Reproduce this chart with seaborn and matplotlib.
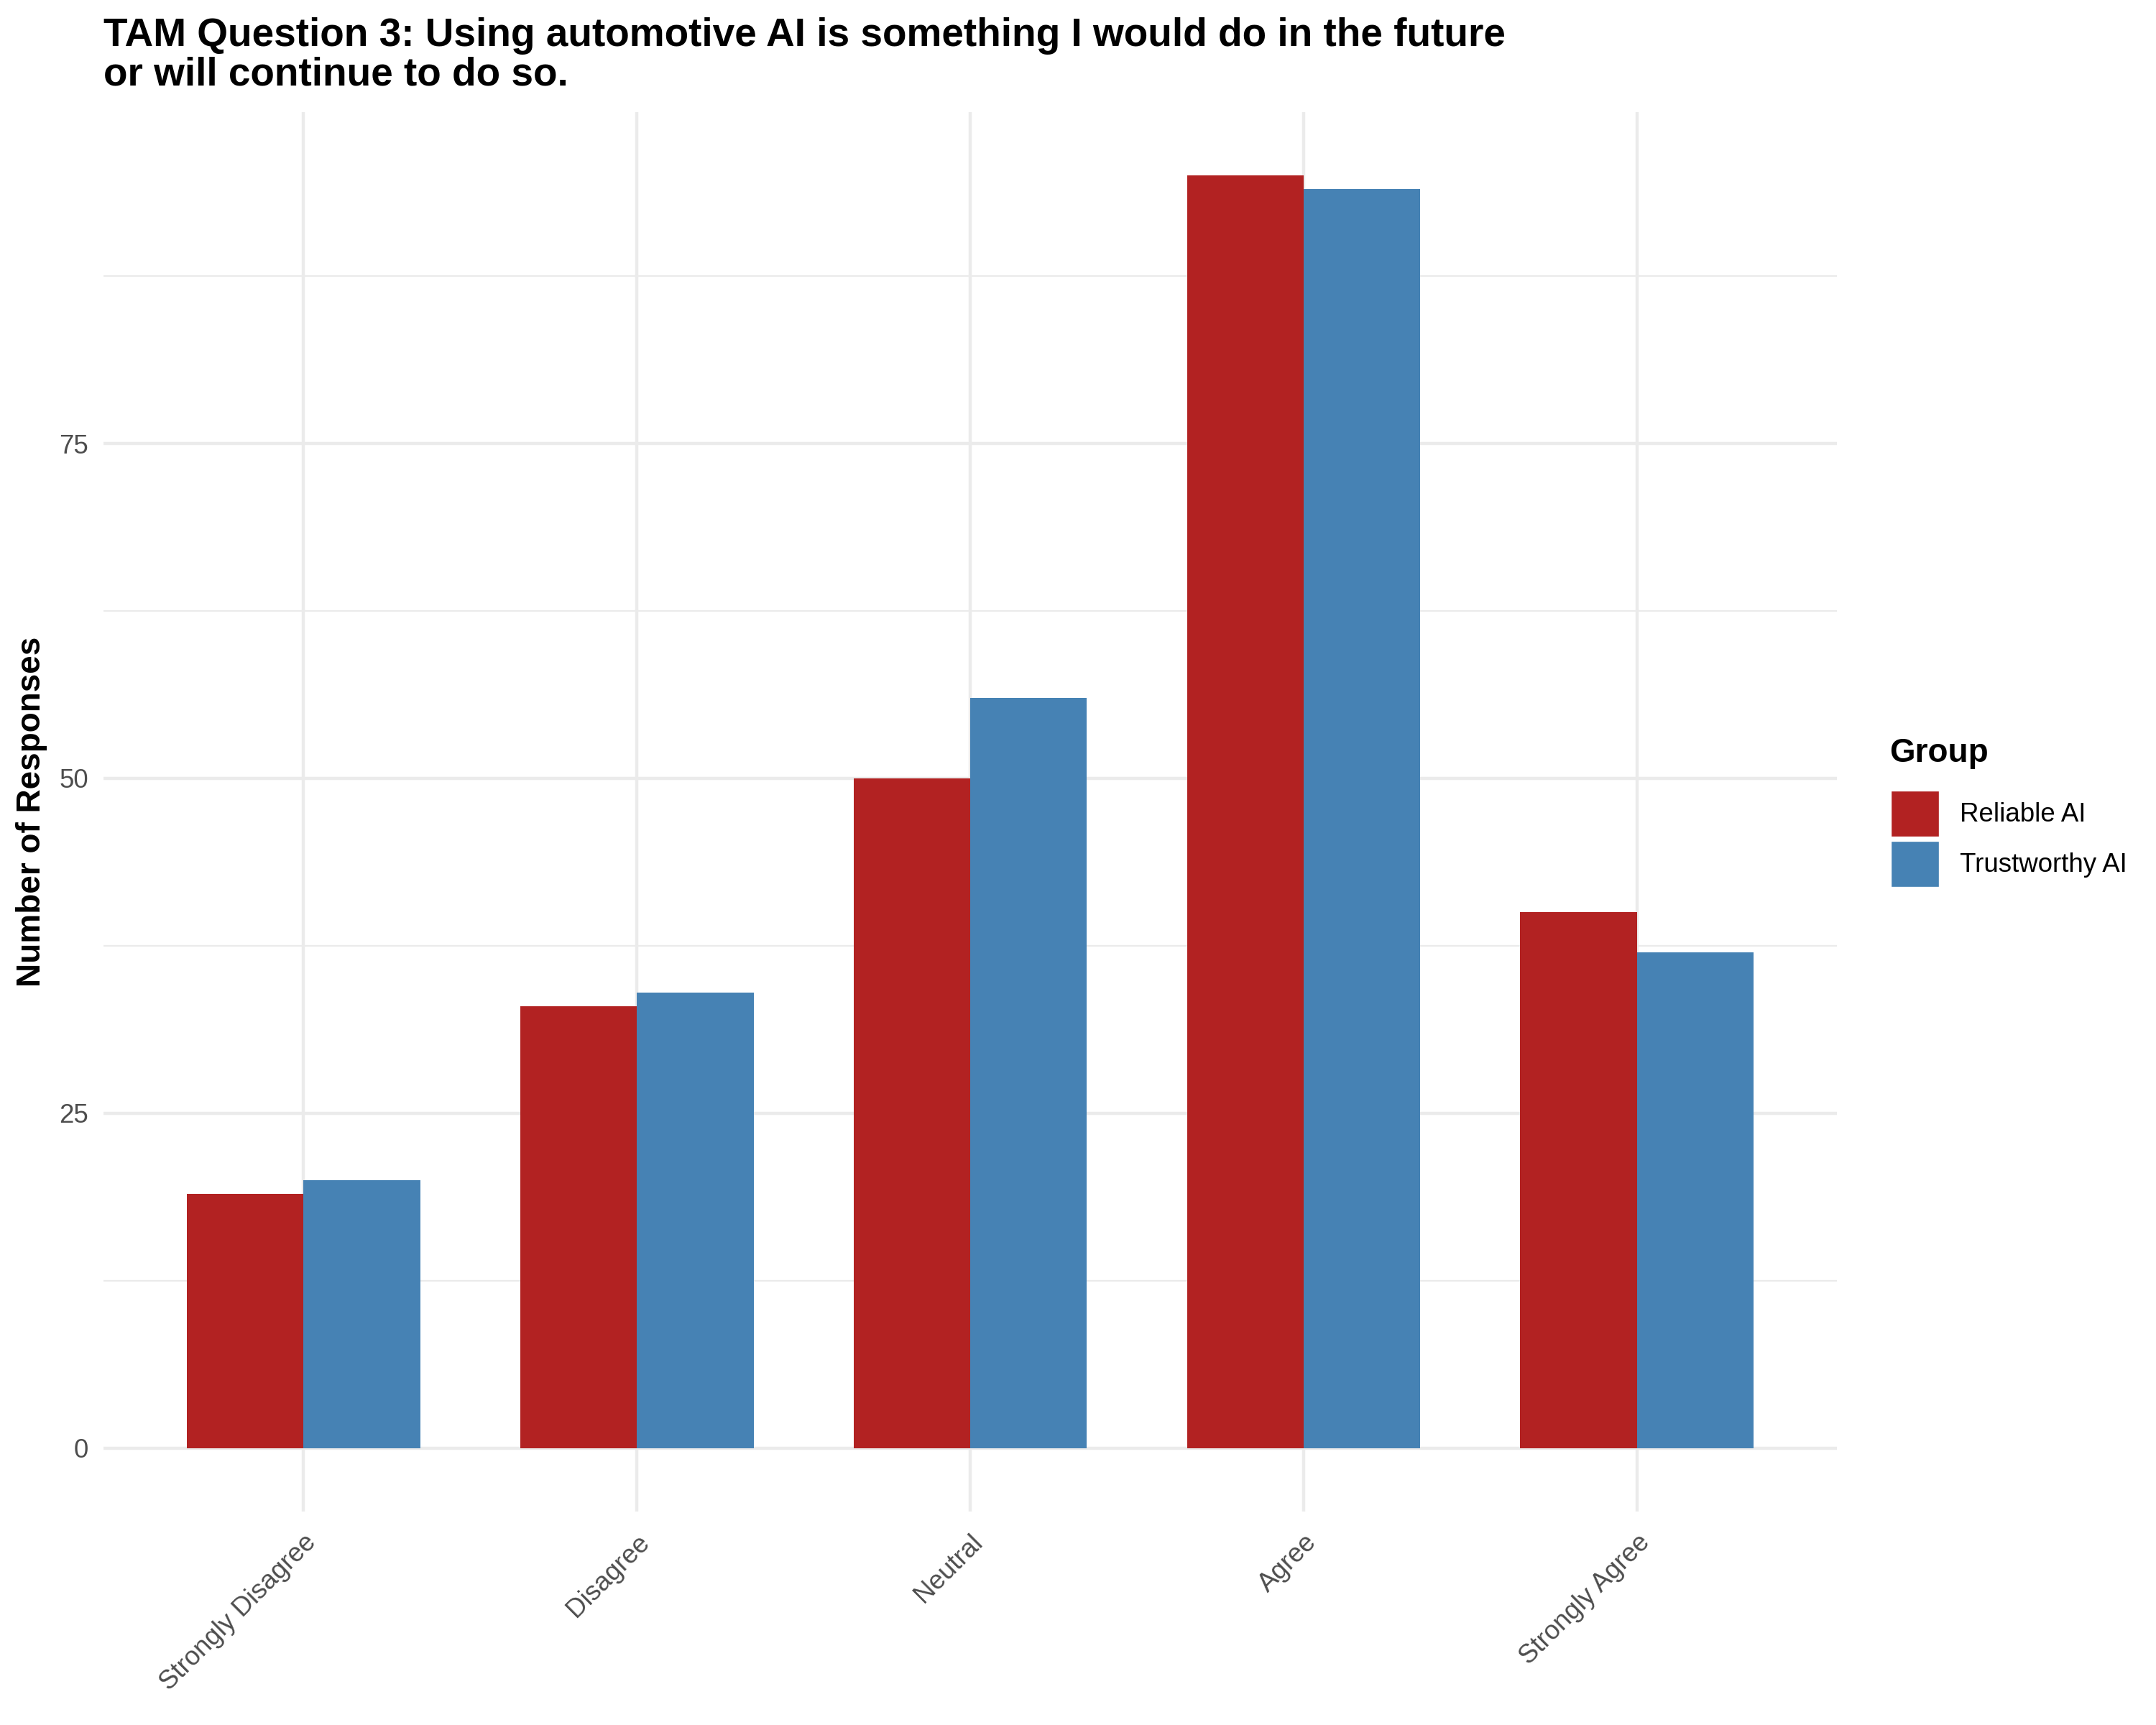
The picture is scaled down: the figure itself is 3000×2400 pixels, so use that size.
import matplotlib
matplotlib.use("Agg")
import matplotlib.pyplot as plt
from matplotlib.patches import Patch
import seaborn as sns
import pandas as pd

categories = ["Strongly Disagree", "Disagree", "Neutral", "Agree", "Strongly Agree"]
groups = ["Reliable AI", "Trustworthy AI"]
reliable = [19, 33, 50, 95, 40]
trustworthy = [20, 34, 56, 94, 37]
colors = {"Reliable AI": "#B22222", "Trustworthy AI": "#4682B4"}
title = "TAM Question 3: Using automotive AI is something I would do in the future\nor will continue to do so."
ylabel = "Number of Responses"
yticks = [0, 25, 50, 75]

df = pd.DataFrame({
    "Response": categories * 2,
    "Group": [groups[0]] * len(categories) + [groups[1]] * len(categories),
    "Count": reliable + trustworthy,
})

sns.set_theme(style="white")
plt.rcParams["font.family"] = ["Liberation Sans", "DejaVu Sans"]
plt.rcParams["text.color"] = "black"

fig = plt.figure(figsize=(10, 8), dpi=300)
ax = fig.add_axes([0.048, 0.1236, 0.804, 0.8115])

sns.barplot(data=df, x="Response", y="Count", hue="Group", order=categories,
            hue_order=groups, palette=colors, width=0.7, saturation=1,
            edgecolor="none", linewidth=0, ax=ax, legend=False)

ax.set_xlim(-0.6, len(categories) - 0.4)
ymax = max(reliable + trustworthy)
ax.set_ylim(-0.05 * ymax, 1.05 * ymax)
ax.set_yticks(yticks)
ax.set_yticks([12.5, 37.5, 62.5, 87.5], minor=True)
ax.set_axisbelow(True)
ax.grid(True, which="major", axis="both", color="#EBEBEB", linewidth=1.07)
ax.grid(True, which="minor", axis="y", color="#EBEBEB", linewidth=0.55)
for s in ax.spines.values():
    s.set_visible(False)

ax.tick_params(axis="both", which="both", length=0, labelsize=8.8, labelcolor="#4D4D4D")
ax.tick_params(axis="y", pad=5)
ax.tick_params(axis="x", pad=6)
for lab in ax.get_xticklabels():
    lab.set_rotation(45)
    lab.set_ha("right")
    lab.set_va("top")
    lab.set_rotation_mode("anchor")

ax.set_xlabel("")
ax.set_ylabel(ylabel, fontsize=11, fontweight="bold", color="black", labelpad=4)

fig.text(0.048, 0.990, title, ha="left", va="top", fontsize=13.2,
         fontweight="bold", color="black", linespacing=1.07)

handles = [Patch(facecolor=colors[g], edgecolor="white", linewidth=0.8, label=g) for g in groups]
leg = fig.legend(handles=handles, title="Group", loc="center left",
                 bbox_to_anchor=(0.8765, 0.529), frameon=False, fontsize=8.8,
                 title_fontproperties={"weight": "bold", "size": 11},
                 handlelength=1.9, handleheight=2.4, handletextpad=0.75,
                 labelspacing=0.1, borderaxespad=0, borderpad=0)
leg._legend_box.align = "left"
leg.get_title().set_color("black")
for t in leg.get_texts():
    t.set_color("black")
leg._legend_box.sep = 7

fig.savefig("out.png", dpi=300, facecolor="white")
